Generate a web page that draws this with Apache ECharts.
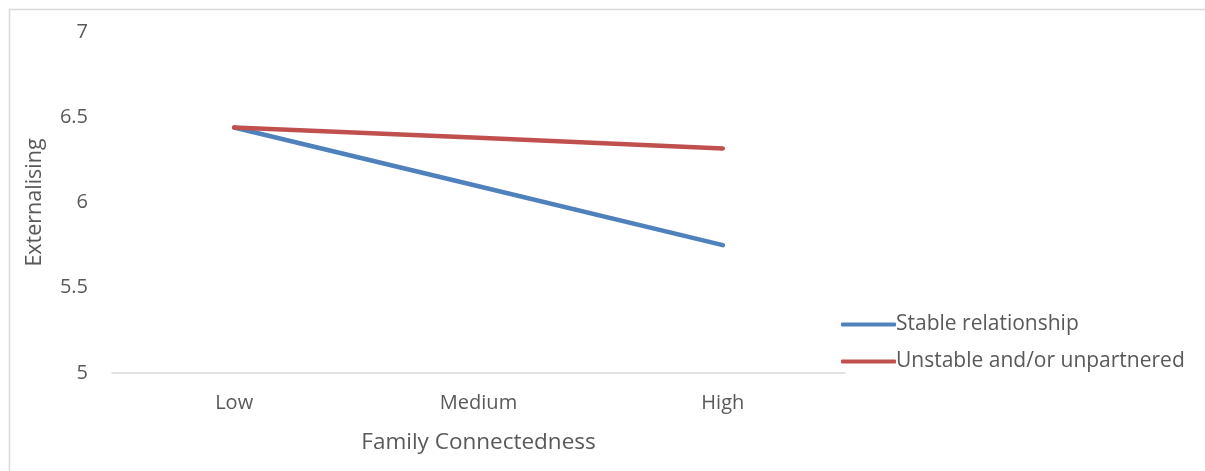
<!DOCTYPE html>
<html><head><meta charset="utf-8">
<script src="https://cdn.jsdelivr.net/npm/echarts@6/dist/echarts.min.js"></script>
<style>html,body{margin:0;padding:0;background:#fff}#c{width:1205px;height:471px}</style>
</head><body><div id="c"></div>
<script>
const categories = ['Low', 'Medium', 'High'];
const stable = [6.44, 6.095, 5.75];
const unstable = [6.44, 6.38, 6.317];
const yTicks = [5, 5.5, 6, 6.5, 7];
const seriesNames = ['Stable relationship', 'Unstable and/or unpartnered'];

const FONT = '"Open Sans", "Noto Sans", sans-serif';
const chart = echarts.init(document.getElementById('c'), null, {renderer: 'canvas'});
chart.setOption({
  animation: false,
  backgroundColor: '#fff',
  textStyle: {fontFamily: FONT, color: '#595959'},
  graphic: [{type: 'rect', left: 7, top: 7, shape: {width: 1210, height: 480},
    style: {fill: 'none', stroke: '#d9d9d9', lineWidth: 1.5}, silent: true}],
  grid: {left: 112, right: 360, top: 32, bottom: 98, containLabel: false},
  legend: {
    orient: 'vertical', left: 836, top: 309, itemWidth: 55, itemHeight: 4, itemGap: 16,
    icon: 'roundRect',
    textStyle: {fontFamily: FONT, fontSize: 21, color: '#595959', padding: [0, 0, 0, -5]},
    data: seriesNames
  },
  xAxis: {
    type: 'category', data: categories, boundaryGap: true,
    axisLine: {lineStyle: {color: '#d9d9d9', width: 1.5}},
    axisTick: {show: false},
    axisLabel: {fontFamily: FONT, fontSize: 20, color: '#595959', margin: 20},
    name: 'Family Connectedness', nameLocation: 'middle', nameGap: 58,
    nameTextStyle: {fontFamily: FONT, fontSize: 22.5, color: '#595959'}
  },
  yAxis: {
    type: 'value', min: 5, max: 7, interval: 0.5,
    splitLine: {show: false}, axisLine: {show: false}, axisTick: {show: false},
    axisLabel: {fontFamily: FONT, fontSize: 20, color: '#595959', margin: 24,
      formatter: v => yTicks.includes(v) ? String(v) : ''},
    name: 'Externalising', nameLocation: 'middle', nameGap: 66, nameRotate: 90,
    nameTextStyle: {fontFamily: FONT, fontSize: 21.5, color: '#595959'}
  },
  series: [
    {name: seriesNames[0], type: 'line', data: stable, symbol: 'none',
      lineStyle: {color: '#4f81bd', width: 4.5, cap: 'round'}, itemStyle: {color: '#4f81bd'}},
    {name: seriesNames[1], type: 'line', data: unstable, symbol: 'none',
      lineStyle: {color: '#c0504d', width: 4.5, cap: 'round'}, itemStyle: {color: '#c0504d'}}
  ]
});
</script></body></html>
